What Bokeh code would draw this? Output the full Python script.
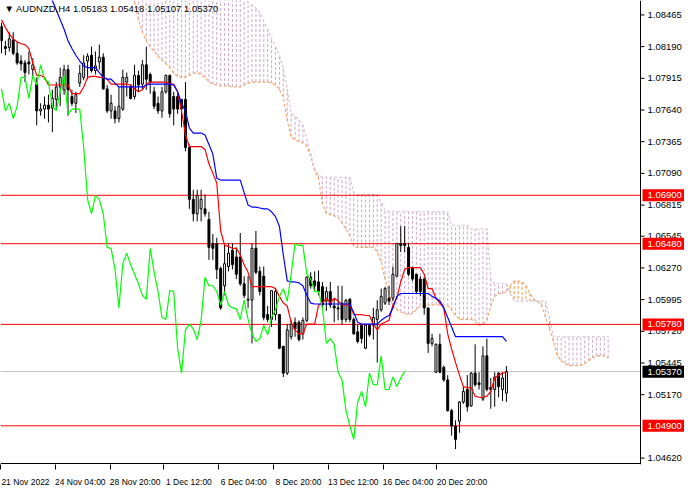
from bokeh.plotting import figure
from bokeh.models import (Range1d, LinearAxis, FixedTicker, Label, CustomJSTickFormatter)
from bokeh.core.properties import value
from bokeh.embed import file_html
from bokeh.resources import INLINE

# ---------------- data (AUDNZD, H4) ----------------
symbol_header = "\u25BC AUDNZD,H4  1.05183 1.05418 1.05107 1.05370"

opens = [1.08365, 1.08190, 1.08182, 1.08248, 1.08132, 1.08065, 1.08048, 1.08057, 1.07990, 1.07865,
         1.07632, 1.07648, 1.07682, 1.07657, 1.07732, 1.07840, 1.07815, 1.07990, 1.07757, 1.07698,
         1.07873, 1.07923, 1.08065, 1.08115, 1.07982, 1.08057, 1.08098, 1.07823, 1.07632, 1.07632,
         1.07565, 1.07648, 1.07882, 1.07840, 1.07757, 1.07940, 1.07865, 1.08032, 1.07948, 1.07798,
         1.07698, 1.07632, 1.07798, 1.07940, 1.07757, 1.07757, 1.07732, 1.07732, 1.07315, 1.06865,
         1.06740, 1.06782, 1.06782, 1.06690, 1.06482, 1.06482, 1.06265, 1.06115, 1.06282, 1.06423,
         1.06365, 1.06365, 1.06132, 1.05990, 1.05990, 1.06440, 1.06240, 1.06198, 1.05865, 1.05823,
         1.05865, 1.05865, 1.05590, 1.05357, 1.05673, 1.05798, 1.05798, 1.05698, 1.05815, 1.06190,
         1.06157, 1.06148, 1.06107, 1.05982, 1.06065, 1.05940, 1.05923, 1.05965, 1.05823, 1.05998,
         1.05823, 1.05715, 1.05773, 1.05573, 1.05773, 1.05773, 1.05823, 1.05907, 1.05965, 1.06007,
         1.06007, 1.06198, 1.06482, 1.06482, 1.06448, 1.06273, 1.06215, 1.06173, 1.06173, 1.05923,
         1.05615, 1.05365, 1.05607, 1.05407, 1.05298, 1.05032, 1.04898, 1.04940, 1.05107, 1.05215,
         1.05073, 1.05357, 1.05273, 1.05132, 1.05507, 1.05232, 1.05215, 1.05357, 1.05215, 1.05183]

highs = [1.08398, 1.08240, 1.08315, 1.08315, 1.08232, 1.08115, 1.08073, 1.08148, 1.08090, 1.07923,
         1.07698, 1.07757, 1.07773, 1.07815, 1.07882, 1.08007, 1.08032, 1.08032, 1.07815, 1.07798,
         1.08032, 1.08115, 1.08132, 1.08190, 1.08148, 1.08207, 1.08132, 1.07857, 1.07773, 1.07673,
         1.07840, 1.07990, 1.07965, 1.07865, 1.08032, 1.07982, 1.08073, 1.08190, 1.07965, 1.07840,
         1.07757, 1.07840, 1.07948, 1.07948, 1.07798, 1.07782, 1.07732, 1.07882, 1.07340, 1.06948,
         1.06948, 1.06948, 1.06907, 1.06757, 1.06565, 1.06532, 1.06282, 1.06482, 1.06482, 1.06482,
         1.06448, 1.06573, 1.06198, 1.06198, 1.06482, 1.06590, 1.06282, 1.06282, 1.05940, 1.06073,
         1.06090, 1.05865, 1.05590, 1.05782, 1.05815, 1.05840, 1.05815, 1.05840, 1.06198, 1.06232,
         1.06240, 1.06248, 1.06148, 1.06107, 1.06148, 1.06007, 1.06115, 1.06115, 1.05998, 1.06007,
         1.05840, 1.05782, 1.05782, 1.05782, 1.05782, 1.05923, 1.05990, 1.06090, 1.06107, 1.06115,
         1.06282, 1.06482, 1.06632, 1.06632, 1.06482, 1.06282, 1.06215, 1.06198, 1.06190, 1.05923,
         1.05698, 1.05615, 1.05698, 1.05423, 1.05340, 1.05048, 1.04948, 1.05115, 1.05240, 1.05340,
         1.05365, 1.05607, 1.05365, 1.05590, 1.05657, 1.05315, 1.05365, 1.05365, 1.05365, 1.05418]

lows = [1.08132, 1.08115, 1.08148, 1.08115, 1.08032, 1.07982, 1.07882, 1.07948, 1.07907, 1.07507,
        1.07590, 1.07565, 1.07532, 1.07448, 1.07648, 1.07673, 1.07773, 1.07590, 1.07673, 1.07615,
        1.07840, 1.07898, 1.07907, 1.07965, 1.07948, 1.07990, 1.07815, 1.07615, 1.07565, 1.07523,
        1.07532, 1.07632, 1.07757, 1.07732, 1.07732, 1.07798, 1.07815, 1.07815, 1.07782, 1.07648,
        1.07607, 1.07573, 1.07782, 1.07573, 1.07507, 1.07607, 1.07490, 1.07282, 1.06782, 1.06673,
        1.06673, 1.06673, 1.06715, 1.06340, 1.06340, 1.06173, 1.05907, 1.06032, 1.06240, 1.06257,
        1.06173, 1.06115, 1.06007, 1.05923, 1.05615, 1.06215, 1.06032, 1.05815, 1.05798, 1.05757,
        1.05815, 1.05565, 1.05323, 1.05340, 1.05648, 1.05673, 1.05632, 1.05648, 1.05798, 1.06090,
        1.06073, 1.06032, 1.05923, 1.05898, 1.05923, 1.05798, 1.05815, 1.05782, 1.05798, 1.05798,
        1.05690, 1.05615, 1.05615, 1.05565, 1.05673, 1.05648, 1.05448, 1.05890, 1.05948, 1.05948,
        1.05982, 1.06190, 1.06407, 1.06407, 1.06198, 1.06157, 1.06048, 1.06023, 1.05865, 1.05532,
        1.05590, 1.05357, 1.05357, 1.05282, 1.05023, 1.04815, 1.04698, 1.04840, 1.05090, 1.05023,
        1.05065, 1.05240, 1.05215, 1.05115, 1.05198, 1.05048, 1.05065, 1.05148, 1.05115, 1.05107]

closes = [1.08240, 1.08173, 1.08257, 1.08132, 1.08048, 1.08040, 1.07965, 1.08040, 1.08032, 1.07632,
          1.07648, 1.07682, 1.07648, 1.07740, 1.07840, 1.07923, 1.07990, 1.07815, 1.07698, 1.07773,
          1.07957, 1.08048, 1.08107, 1.07982, 1.08023, 1.08098, 1.07823, 1.07632, 1.07698, 1.07565,
          1.07673, 1.07923, 1.07923, 1.07740, 1.07940, 1.07857, 1.08032, 1.07907, 1.07882, 1.07673,
          1.07632, 1.07798, 1.07940, 1.07607, 1.07648, 1.07648, 1.07648, 1.07315, 1.06865, 1.06740,
          1.06898, 1.06865, 1.06740, 1.06448, 1.06440, 1.06257, 1.05923, 1.06307, 1.06398, 1.06298,
          1.06215, 1.06132, 1.06032, 1.05998, 1.06440, 1.06232, 1.06065, 1.05840, 1.05823, 1.06073,
          1.06065, 1.05573, 1.05357, 1.05732, 1.05782, 1.05740, 1.05648, 1.05815, 1.06190, 1.06115,
          1.06115, 1.06065, 1.05948, 1.06065, 1.05948, 1.05923, 1.05915, 1.05823, 1.05990, 1.05823,
          1.05698, 1.05632, 1.05657, 1.05773, 1.05690, 1.05840, 1.05907, 1.06023, 1.06090, 1.05982,
          1.06215, 1.06482, 1.06465, 1.06465, 1.06215, 1.06173, 1.06065, 1.06065, 1.05923, 1.05615,
          1.05657, 1.05607, 1.05365, 1.05298, 1.05032, 1.04898, 1.04782, 1.05107, 1.05198, 1.05065,
          1.05357, 1.05257, 1.05257, 1.05507, 1.05215, 1.05215, 1.05323, 1.05240, 1.05315, 1.05370]

# Ichimoku: Tenkan-sen (bars 0..129)
tenkan = [1.08423, 1.08357, 1.08298, 1.08257, 1.08232, 1.08215, 1.08207, 1.08173, 1.08048, 1.07940,
          1.07940, 1.07923, 1.07857, 1.07857, 1.07857, 1.07857, 1.07857, 1.07857, 1.07782, 1.07782,
          1.07782, 1.07840, 1.07923, 1.07932, 1.07932, 1.07923, 1.07923, 1.07907, 1.07865, 1.07865,
          1.07865, 1.07865, 1.07865, 1.07857, 1.07823, 1.07798, 1.07815, 1.07865, 1.07882, 1.07882,
          1.07882, 1.07882, 1.07882, 1.07865, 1.07865, 1.07798, 1.07632, 1.07423, 1.07323, 1.07323,
          1.07323, 1.07323, 1.07298, 1.07173, 1.07090, 1.07007, 1.06590, 1.06465, 1.06457, 1.06440,
          1.06440, 1.06382, 1.06298, 1.06232, 1.06107, 1.06107, 1.06107, 1.06107, 1.06107, 1.06107,
          1.06090, 1.06023, 1.05965, 1.05940, 1.05798, 1.05732, 1.05698, 1.05698, 1.05782, 1.05782,
          1.05782, 1.05948, 1.05965, 1.06007, 1.05965, 1.06007, 1.05982, 1.05948, 1.05948, 1.05948,
          1.05865, 1.05865, 1.05865, 1.05857, 1.05857, 1.05782, 1.05732, 1.05782, 1.05798, 1.05815,
          1.05948, 1.06007, 1.06148, 1.06257, 1.06273, 1.06273, 1.06273, 1.06273, 1.06215, 1.06090,
          1.06090, 1.06007, 1.05965, 1.05923, 1.05698, 1.05565, 1.05448, 1.05340, 1.05240, 1.05232,
          1.05232, 1.05157, 1.05148, 1.05148, 1.05157, 1.05198, 1.05315, 1.05340, 1.05357, 1.05365]

# Kijun-sen (bars 12..129)
kijun_start = 12
kijun = [1.08657, 1.08590, 1.08507, 1.08423, 1.08340, 1.08240, 1.08173, 1.08115, 1.08065, 1.08023,
         1.08007, 1.08007, 1.08007, 1.07965, 1.07923, 1.07907, 1.07907, 1.07873, 1.07840, 1.07840,
         1.07840, 1.07840, 1.07840, 1.07840, 1.07840, 1.07857, 1.07865, 1.07865, 1.07865, 1.07865,
         1.07865, 1.07865, 1.07857, 1.07798, 1.07698, 1.07632, 1.07482, 1.07440, 1.07440, 1.07440,
         1.07423, 1.07340, 1.07257, 1.07048, 1.07032, 1.07032, 1.07032, 1.07032, 1.07032, 1.07032,
         1.06923, 1.06815, 1.06798, 1.06798, 1.06790, 1.06782, 1.06782, 1.06757, 1.06715, 1.06632,
         1.06382, 1.06157, 1.06148, 1.06148, 1.06140, 1.06115, 1.06032, 1.05965, 1.05957, 1.05957,
         1.05957, 1.05957, 1.05957, 1.05957, 1.05957, 1.05957, 1.05957, 1.05957, 1.05882, 1.05798,
         1.05782, 1.05782, 1.05782, 1.05782, 1.05782, 1.05815, 1.05840, 1.05857, 1.05923, 1.06023,
         1.06048, 1.06048, 1.06048, 1.06048, 1.06048, 1.06048, 1.06048, 1.06048, 1.06023, 1.06007,
         1.05982, 1.05923, 1.05840, 1.05757, 1.05673, 1.05673, 1.05673, 1.05673, 1.05673, 1.05673,
         1.05673, 1.05673, 1.05673, 1.05673, 1.05673, 1.05673, 1.05673, 1.05632]

# Chikou span lag (bars)
chikou_lag = 26

# Senkou spans (bars 32..155, shifted forward)
senkou_start = 32
senkou_a = [1.08690, 1.08632, 1.08573, 1.08423, 1.08315, 1.08240, 1.08190, 1.08148, 1.08107, 1.08073,
            1.08040, 1.08007, 1.07957, 1.07932, 1.07923, 1.07923, 1.07940, 1.07957, 1.07965, 1.07948,
            1.07923, 1.07882, 1.07865, 1.07857, 1.07848, 1.07848, 1.07848, 1.07840, 1.07840, 1.07840,
            1.07857, 1.07873, 1.07882, 1.07882, 1.07882, 1.07882, 1.07882, 1.07873, 1.07857, 1.07815,
            1.07757, 1.07548, 1.07407, 1.07382, 1.07365, 1.07357, 1.07323, 1.07240, 1.07115, 1.07048,
            1.06823, 1.06740, 1.06732, 1.06723, 1.06707, 1.06657, 1.06607, 1.06548, 1.06457, 1.06448,
            1.06448, 1.06448, 1.06448, 1.06448, 1.06407, 1.06323, 1.06173, 1.06048, 1.05940, 1.05907,
            1.05890, 1.05873, 1.05865, 1.05873, 1.05907, 1.05940, 1.05940, 1.05948, 1.05948, 1.05948,
            1.05948, 1.05948, 1.05940, 1.05907, 1.05857, 1.05823, 1.05823, 1.05823, 1.05823, 1.05807,
            1.05773, 1.05782, 1.05815, 1.05940, 1.06023, 1.06048, 1.06048, 1.06065, 1.06115, 1.06157,
            1.06157, 1.06148, 1.06115, 1.06048, 1.05998, 1.05982, 1.05940, 1.05840, 1.05740, 1.05632,
            1.05507, 1.05465, 1.05440, 1.05423, 1.05423, 1.05423, 1.05423, 1.05440, 1.05465, 1.05490,
            1.05507, 1.05507, 1.05507, 1.05490]

senkou_b = [1.08920, 1.08920, 1.08920, 1.08920, 1.08920, 1.08920, 1.08920, 1.08920, 1.08920, 1.08920,
            1.08920, 1.08920, 1.08920, 1.08920, 1.08920, 1.08920, 1.08920, 1.08920, 1.08920, 1.08920,
            1.08920, 1.08920, 1.08920, 1.08920, 1.08920, 1.08920, 1.08920, 1.08920, 1.08920, 1.08757,
            1.08607, 1.08573, 1.08548, 1.08523, 1.08490, 1.08407, 1.08340, 1.08257, 1.08190, 1.08120,
            1.08000, 1.07823, 1.07607, 1.07590, 1.07548, 1.07507, 1.07382, 1.07257, 1.07132, 1.07073,
            1.07057, 1.07057, 1.07057, 1.07057, 1.07057, 1.07057, 1.07057, 1.07057, 1.06923, 1.06907,
            1.06907, 1.06907, 1.06907, 1.06907, 1.06907, 1.06840, 1.06773, 1.06757, 1.06757, 1.06757,
            1.06757, 1.06757, 1.06757, 1.06757, 1.06757, 1.06757, 1.06757, 1.06757, 1.06757, 1.06757,
            1.06757, 1.06757, 1.06757, 1.06640, 1.06640, 1.06640, 1.06640, 1.06640, 1.06607, 1.06607,
            1.06607, 1.06607, 1.06607, 1.06173, 1.06132, 1.06132, 1.06132, 1.06132, 1.06048, 1.05982,
            1.05982, 1.05982, 1.05982, 1.05982, 1.05982, 1.05982, 1.05982, 1.05982, 1.05840, 1.05673,
            1.05673, 1.05673, 1.05673, 1.05673, 1.05673, 1.05673, 1.05673, 1.05673, 1.05673, 1.05673,
            1.05673, 1.05673, 1.05673, 1.05673]

# horizontal levels
red_levels = [1.06900, 1.06480, 1.05780, 1.04900]
bid_price = 1.05370

price_ticks = [1.08465, 1.08190, 1.07915, 1.07640, 1.07365, 1.07090, 1.06815, 1.06545,
               1.06270, 1.05995, 1.05720, 1.05445, 1.05170, 1.04620]

time_tick_bars = [-0.25, 13.75, 27.75, 41.5, 55.5, 69.5, 83.5, 97.5, 111.25]
time_labels = ["21 Nov 2022", "24 Nov 04:00", "28 Nov 20:00", "1 Dec 12:00", "6 Dec 04:00",
               "8 Dec 20:00", "13 Dec 12:00", "16 Dec 04:00", "20 Dec 20:00"]

# ---------------- geometry ----------------
FONT = "Liberation Sans"
W, FRAME_H, BOTTOM = 684, 464, 20
PLOT_W = 640                      # chart area left of the price scale
x_lo, x_axis = -0.25, 163.25      # visible bars in chart area
ppb = PLOT_W / (x_axis - x_lo)    # pixels per bar
x_hi = x_lo + W / ppb
y_line, y_hi = 1.04573, 1.08590   # price at bottom line / top edge
dy = (y_hi - y_line) / (FRAME_H - 1)
y_lo = y_line - dy

p = figure(frame_width=W, frame_height=FRAME_H, output_backend="svg", toolbar_location=None,
           x_range=Range1d(x_lo, x_hi), y_range=Range1d(y_lo, y_hi),
           x_axis_location=None, y_axis_location=None,
           min_border_left=0, min_border_top=0, min_border_right=0, min_border_bottom=BOTTOM,
           background_fill_color="white", border_fill_color="white")
p.outline_line_color = None
p.grid.visible = False

# cloud hatch (one dotted vertical stroke per bar)
cx = [senkou_start + k for k in range(len(senkou_a))]
ccol = ["#F0A058" if a > b else "#CFAFCF" for a, b in zip(senkou_a, senkou_b)]
p.segment(x0=cx, y0=senkou_a, x1=cx, y1=senkou_b, line_color=ccol, line_width=1.1, line_dash="3 2")
p.line(cx, senkou_a, line_color="#F4A460", line_width=1.1, line_dash="3 2")
p.line(cx, senkou_b, line_color="#D8BFD8", line_width=1.1, line_dash="3 2")

# horizontal levels (chart area only)
n_lv = len(red_levels)
p.segment(x0=[x_lo] * n_lv, y0=red_levels, x1=[x_axis] * n_lv, y1=red_levels,
          line_color="#FF0000", line_width=1)
p.segment(x0=[x_lo], y0=[bid_price], x1=[x_axis], y1=[bid_price], line_color="#C0C0C0", line_width=1)

# candles
idx = list(range(len(opens)))
p.segment(x0=idx, y0=lows, x1=idx, y1=highs, line_color="black", line_width=1)
up = [i for i in idx if closes[i] > opens[i]]
dn = [i for i in idx if closes[i] <= opens[i]]
p.vbar(x=up, bottom=[opens[i] for i in up], top=[closes[i] for i in up], width=0.5,
       fill_color="white", line_color="black", line_width=1)
p.vbar(x=dn, bottom=[closes[i] for i in dn], top=[opens[i] for i in dn], width=0.5,
       fill_color="black", line_color="black", line_width=1)

# Ichimoku lines
p.line(idx, tenkan, line_color="#FF0000", line_width=1.2)
p.line([kijun_start + k for k in range(len(kijun))], kijun, line_color="#0000FF", line_width=1.2)
p.line(idx[:-chikou_lag], closes[chikou_lag:], line_color="#00FF00", line_width=1.2)

# price scale on the right (axis line, ticks, labels)
p.segment(x0=[x_axis], y0=[y_lo], x1=[x_axis], y1=[y_hi], line_color="black", line_width=1)
p.segment(x0=[x_lo], y0=[y_line], x1=[x_axis], y1=[y_line], line_color="black", line_width=1)
n_t = len(price_ticks)
p.segment(x0=[x_axis] * n_t, y0=price_ticks, x1=[x_axis + 4 / ppb] * n_t, y1=price_ticks,
          line_color="black", line_width=1)
p.text(x=[x_axis] * n_t, y=price_ticks, text=["%.5f" % t for t in price_ticks], x_offset=7,
       text_font=value(FONT), text_font_size=value("9.5px"), text_color="black",
       text_baseline="middle", text_align="left")

# price tags
tag_half = 6 * dy
tag_vals = red_levels + [bid_price]
tag_cols = ["#FF0000"] * n_lv + ["black"]
p.quad(left=[x_axis + 2 / ppb] * len(tag_vals), right=[x_hi] * len(tag_vals),
       bottom=[v - tag_half for v in tag_vals], top=[v + tag_half for v in tag_vals],
       fill_color=tag_cols, line_color=None)
p.text(x=[x_axis] * len(tag_vals), y=tag_vals, text=["%.5f" % v for v in tag_vals], x_offset=7,
       text_font=value(FONT), text_font_size=value("9.5px"), text_color="white",
       text_baseline="middle", text_align="left")

# bottom time axis: ticks only
xa = LinearAxis(ticker=FixedTicker(ticks=time_tick_bars),
                formatter=CustomJSTickFormatter(code="return '';"),
                axis_line_color=None, major_tick_out=5, major_tick_in=0,
                major_tick_line_color="black", minor_tick_line_color=None,
                major_label_text_font_size="0px", major_label_standoff=0)
p.add_layout(xa, "below")

# bottom time axis: labels to the right of each tick
label_pos = [t + 25.0 / ppb for t in time_tick_bars]
xl = LinearAxis(ticker=FixedTicker(ticks=label_pos),
                formatter=CustomJSTickFormatter(args=dict(pos=label_pos, lab=time_labels), code="""
                    let best = 0, d = 1e9;
                    for (let k = 0; k < pos.length; k++) {
                        const e = Math.abs(pos[k] - tick);
                        if (e < d) { d = e; best = k; }
                    }
                    return lab[best];"""),
                axis_line_color=None, major_tick_line_color=None, minor_tick_line_color=None,
                major_label_text_font=FONT, major_label_text_font_size="8.5px",
                major_label_text_color="black", major_label_standoff=1)
p.add_layout(xl, "below")

# header
p.add_layout(Label(x=x_lo, y=y_hi, x_offset=4, y_offset=-2, text=symbol_header, text_color="black",
                   text_font=FONT, text_font_size="9.5px", text_baseline="top", text_align="left"))

open("out.html", "w").write(file_html(p, INLINE))
